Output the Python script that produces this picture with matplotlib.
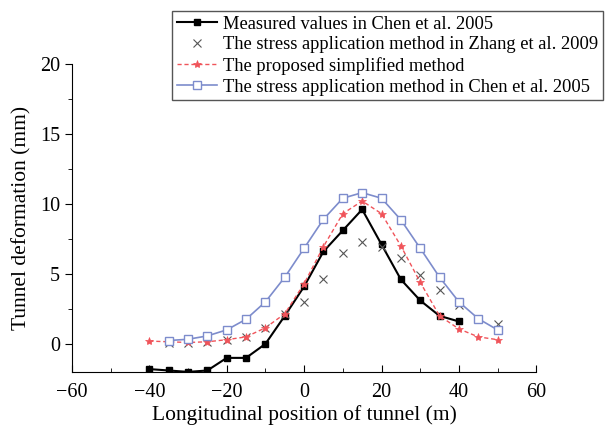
import matplotlib
matplotlib.use("Agg")
import matplotlib.pyplot as plt
from matplotlib.ticker import MultipleLocator

plt.rcParams['font.family'] = ['Liberation Serif', 'DejaVu Serif']

# measured values (Chen et al. 2005)
x_meas = [-40, -35, -30, -25, -20, -15, -10, -5, 0, 5, 10, 15, 20, 25, 30, 35, 40]
y_meas = [-1.8, -1.9, -2.0, -1.9, -1.0, -1.0, 0.0, 2.0, 4.1, 6.6, 8.1, 9.6, 7.1, 4.6, 3.1, 2.0, 1.6]

# stress application method (Zhang et al. 2009)
x_zhang = [-35, -30, -25, -20, -15, -10, -5, 0, 5, 10, 15, 20, 25, 30, 35, 40, 50]
y_zhang = [0.05, 0.05, 0.15, 0.25, 0.5, 1.1, 2.1, 3.0, 4.6, 6.5, 7.3, 6.95, 6.1, 4.9, 3.85, 2.8, 1.45]

# proposed simplified method
x_prop = [-40, -35, -30, -25, -20, -15, -10, -5, 0, 5, 10, 15, 20, 25, 30, 35, 40, 45, 50]
y_prop = [0.2, 0.15, 0.1, 0.15, 0.3, 0.5, 1.15, 2.15, 4.3, 6.95, 9.3, 10.2, 9.3, 7.0, 4.4, 2.0, 1.07, 0.5, 0.3]

# stress application method (Chen et al. 2005)
x_chen = [-35, -30, -25, -20, -15, -10, -5, 0, 5, 10, 15, 20, 25, 30, 35, 40, 45, 50]
y_chen = [0.24, 0.33, 0.57, 1.0, 1.76, 3.0, 4.76, 6.83, 8.9, 10.4, 10.8, 10.4, 8.86, 6.83, 4.76, 3.0, 1.8, 1.0]

fig = plt.figure(figsize=(6.15, 4.37), dpi=100)
ax = fig.add_axes([0.117, 0.149, 0.755, 0.705])

ax.plot(x_meas, y_meas, color='black', marker='s', markersize=5, lw=1.5,
        label='Measured values in Chen et al. 2005')
ax.plot(x_zhang, y_zhang, color='#555555', marker='x', markersize=6, lw=0,
        markeredgewidth=0.8,
        label='The stress application method in Zhang et al. 2009')
ax.plot(x_prop, y_prop, color='#f0545a', marker='*', markersize=6, lw=1,
        markeredgewidth=0.5, ls=(0, (3, 2)),
        label='The proposed simplified method')
ax.plot(x_chen, y_chen, color='#7d8ccc', marker='s', markersize=6,
        markerfacecolor='white', lw=1.2,
        label='The stress application method in Chen et al. 2005')

ax.set_xlim(-60, 60)
ax.set_ylim(-2, 20)
ax.set_xticks([-60, -40, -20, 0, 20, 40, 60])
ax.set_yticks([0, 5, 10, 15, 20])
ax.xaxis.set_minor_locator(MultipleLocator(10))
ax.yaxis.set_minor_locator(MultipleLocator(2.5))
ax.tick_params(axis='x', which='both', direction='in', labelsize=14.5, pad=8)
ax.tick_params(axis='y', which='both', direction='out', labelsize=14.5)
ax.tick_params(which='major', length=5)
ax.tick_params(which='minor', length=3)
ax.spines['top'].set_visible(False)
ax.spines['right'].set_visible(False)

ax.set_xlabel('Longitudinal position of tunnel (m)', fontsize=15.5, labelpad=2)
ax.set_ylabel('Tunnel deformation (mm)', fontsize=15.5, labelpad=6)

fig.legend(loc='upper left', bbox_to_anchor=(0.28, 0.975), fontsize=13.3,
           frameon=True, fancybox=False, edgecolor='#555555', framealpha=1,
           handlelength=2.2, borderpad=0.25, labelspacing=0.2,
           handletextpad=0.3, borderaxespad=0)

fig.savefig('out.png', dpi=100)
